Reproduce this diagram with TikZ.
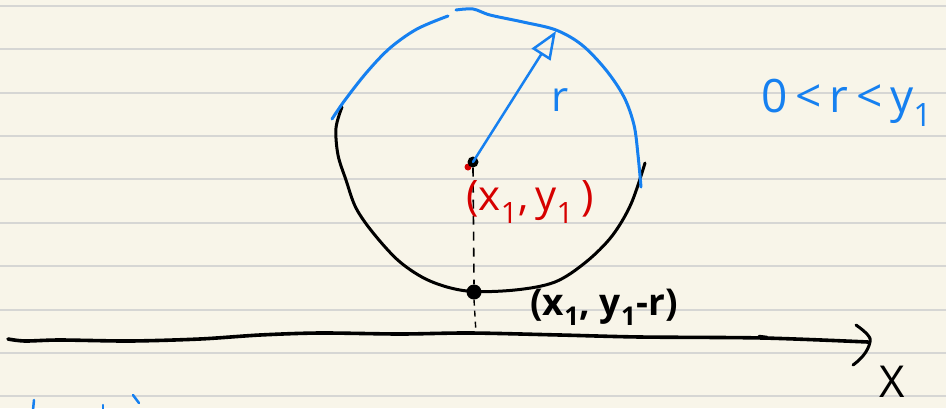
\documentclass[tikz,border=0pt]{standalone}
\usepackage{fontspec}
\setmainfont{Open Sans}
\usetikzlibrary{arrows.meta}
\definecolor{paper}{RGB}{248,245,233}
\definecolor{rule}{RGB}{214,214,212}
\definecolor{penblue}{RGB}{22,128,240}
\definecolor{penred}{RGB}{214,0,0}
\tikzset{
  ink/.style={line width=3pt, line cap=round, line join=round},
  blueink/.style={ink, draw=penblue},
  blackink/.style={ink, draw=black},
  ruleline/.style={draw=rule, line width=2pt},
  lbl/.style={inner sep=0pt, outer sep=0pt},
}
\begin{document}
\begin{tikzpicture}[x=1pt,y=-1pt]
\fill[paper] (0,0) rectangle (946,408);
\useasboundingbox (0,0) rectangle (946,408);
% ruled lines
\foreach \yy in {5.7,49.1,92.5,135.9,179.3,222.7,266.1,309.5,352.9,396.3}
  \draw[ruleline] (0,\yy) -- (946,\yy);

% circle, lower part black
\draw[blackink] plot[smooth, tension=0.55] coordinates {(342,107) (336,128) (338,155) (346,180) (356,208) (374,234) (400,262) (430,281) (467,291) (515,290) (555,282) (586,262) (612,236) (631,204) (645,163)};
% circle, upper part blue
\draw[blueink] plot[smooth, tension=0.55] coordinates {(332,119) (345,100) (367,72) (390,48) (417,29) (448,16)};
\draw[blueink] plot[smooth, tension=0.55] coordinates {(456,10) (473,9) (490,15) (523,22) (556,30) (582,45) (606,70) (624,97) (634,125) (638,155) (641,187)};

% centre and foot points
\coordinate (tip) at (556,31);
\fill[penred] (468,167) circle (3.5);
\node[circle, fill=black, inner sep=0pt, minimum size=11pt] (ctr) at (473,162) {};
\node[circle, fill=black, inner sep=0pt, minimum size=15pt] (foot) at (474,292) {};
\coordinate (axisfoot) at (476,333);

% radius arrow
\draw[blueink, line width=2.5pt, -{Triangle[open, length=28pt, width=22pt, line width=2.5pt]}] (ctr.center) -- (tip);

% dashed perpendicular
\draw[black, line width=1.6pt, dash pattern=on 9pt off 7pt] (ctr.south) -- (foot.north);
\draw[black, line width=1.4pt, dash pattern=on 6pt off 5pt] (foot.south) -- (axisfoot);

% x axis
\draw[black, line width=3.6pt, line cap=round] plot[smooth, tension=0.5] coordinates {(8,339) (25,341) (60,340) (130,341) (200,339) (260,335) (320,333) (400,334) (470,333) (560,335) (640,337) (763,338) (868,342)};
\coordinate (axisend) at (870,342);
\draw[blackink] (856,325) .. controls (866,332) and (872,338) .. (axisend) .. controls (868,352) and (860,360) .. (853,365);
\draw[black, line width=2.5pt, line cap=round] (759,336) -- (767,337);

% labels
\node[lbl, text=penblue, font=\fontsize{42}{42}\selectfont] (rlab) at (560,100) {r};
\node[lbl, text=penblue, font=\fontsize{46}{46}\selectfont] (cond) at (847,103) {0\,<\,r\,<\,y\textsubscript{1}};
\node[lbl, text=penred, font=\fontsize{42}{42}\selectfont] (c1lab) at (530,202) {(x\textsubscript{1},\,y\textsubscript{1}\,)};
\node[lbl, text=black, font=\bfseries\fontsize{37}{37}\selectfont] (c2lab) at (604,307) {(x\textsubscript{1},\ y\textsubscript{1}-r)};
\node[lbl, text=black, font=\fontsize{44}{44}\selectfont] (xlab) at (892,382) {X};

% cut-off strokes at bottom left
\draw[blueink, line width=2.5pt] (34,400) -- (33,410);
\draw[blueink, line width=2.5pt] (103,405) -- (103,410);
\draw[blueink, line width=2.5pt] (133,395) -- (139,403);
\end{tikzpicture}
\end{document}
